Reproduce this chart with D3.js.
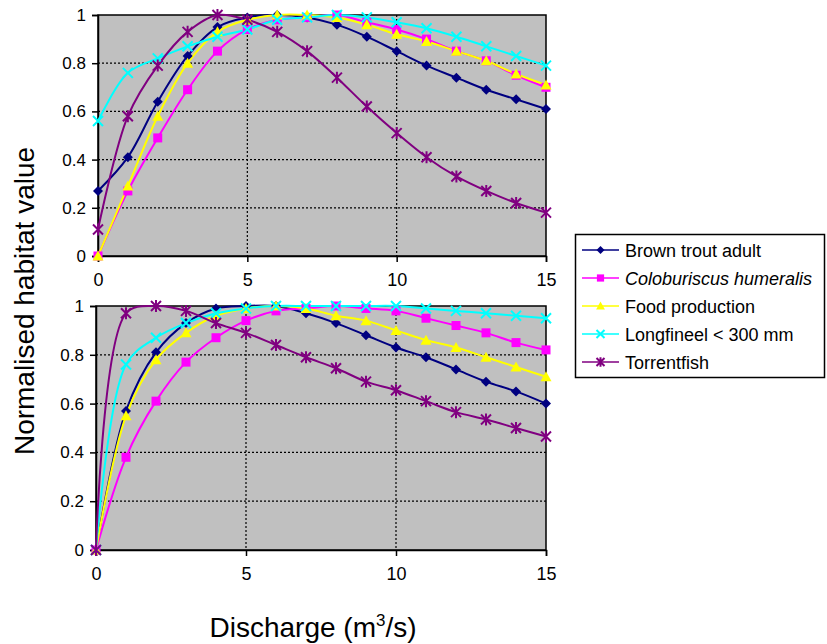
<!DOCTYPE html>
<html>
<head>
<meta charset="utf-8">
<script src="https://cdn.jsdelivr.net/npm/d3@7"></script>
<style>
  html, body { margin: 0; padding: 0; background: #fff; }
  svg { display: block; font-family: Arial, "Liberation Sans", sans-serif; }
</style>
</head>
<body>
<svg id="chart" width="827" height="644"></svg>
<script>
// Discharge steps (m3/s)
const discharge = [0,1,2,3,4,5,6,7,8,9,10,11,12,13,14,15];

const seriesNames = ["Brown trout adult", "Coloburiscus humeralis", "Food production", "Longfineel < 300 mm", "Torrentfish"];

// Upper panel
const topBrownTrout   = [0.27,0.41,0.64,0.83,0.95,0.99,1.00,0.99,0.96,0.91,0.85,0.79,0.74,0.69,0.65,0.61];
const topColoburiscus = [0.00,0.27,0.49,0.69,0.85,0.94,0.98,0.99,1.00,0.97,0.94,0.90,0.85,0.81,0.75,0.70];
const topFood         = [0.00,0.29,0.58,0.80,0.93,0.98,1.00,1.00,0.99,0.96,0.92,0.89,0.85,0.81,0.755,0.71];
const topLongfin      = [0.56,0.76,0.82,0.87,0.91,0.94,0.98,0.99,1.00,0.99,0.97,0.945,0.91,0.87,0.83,0.79];
const topTorrentfish  = [0.11,0.58,0.79,0.93,1.00,0.98,0.93,0.85,0.74,0.62,0.51,0.41,0.33,0.27,0.22,0.18];

// Lower panel
const botBrownTrout   = [0.00,0.57,0.81,0.93,0.99,1.00,1.00,0.97,0.93,0.88,0.83,0.79,0.74,0.69,0.65,0.60];
const botColoburiscus = [0.00,0.38,0.61,0.77,0.87,0.94,0.98,0.99,1.00,0.99,0.98,0.95,0.92,0.89,0.85,0.82];
const botFood         = [0.00,0.55,0.78,0.89,0.96,0.99,1.00,0.99,0.96,0.94,0.90,0.86,0.83,0.79,0.75,0.71];
const botLongfin      = [0.00,0.76,0.87,0.93,0.97,0.99,1.00,1.00,1.00,1.00,1.00,0.99,0.98,0.97,0.96,0.95];
const botTorrentfish  = [0.00,0.97,1.00,0.98,0.93,0.89,0.84,0.79,0.745,0.69,0.655,0.61,0.565,0.535,0.50,0.465];

const xTicks = [0, 5, 10, 15];
const yTicks = [0, 0.2, 0.4, 0.6, 0.8, 1];
const yTickLabels = ["0", "0.2", "0.4", "0.6", "0.8", "1"];

const colors  = ["#000080", "#FF00FF", "#FFFF00", "#00FFFF", "#800080"];
const symbols = ["diamond", "square", "triangle", "cross", "star"];

const svg = d3.select("#chart");

// Marker glyphs
function drawMarker(g, kind, color, x, y, r = 5) {
  if (kind === "diamond") {
    g.append("path").attr("d", `M${x},${y-r}L${x+r},${y}L${x},${y+r}L${x-r},${y}Z`).attr("fill", color);
  } else if (kind === "square") {
    g.append("rect").attr("x", x-r*0.9).attr("y", y-r*0.9).attr("width", r*1.8).attr("height", r*1.8).attr("fill", color);
  } else if (kind === "triangle") {
    g.append("path").attr("d", `M${x},${y-r*1.1}L${x+r*1.1},${y+r*0.9}L${x-r*1.1},${y+r*0.9}Z`).attr("fill", color);
  } else if (kind === "cross") {
    g.append("path").attr("d", `M${x-r},${y-r}L${x+r},${y+r}M${x+r},${y-r}L${x-r},${y+r}`)
      .attr("stroke", color).attr("stroke-width", 2).attr("fill", "none");
  } else if (kind === "star") {
    g.append("path").attr("d", `M${x-r},${y-r}L${x+r},${y+r}M${x+r},${y-r}L${x-r},${y+r}M${x},${y-r*1.2}L${x},${y+r*1.2}`)
      .attr("stroke", color).attr("stroke-width", 2).attr("fill", "none");
  }
}

function drawPanel(left, right, top, bottom, data) {
  const x = d3.scaleLinear().domain([0, 15]).range([left, right]);
  const y = d3.scaleLinear().domain([0, 1]).range([bottom, top]);
  const g = svg.append("g");

  // plot area
  g.append("rect").attr("x", left).attr("y", top)
    .attr("width", right - left).attr("height", bottom - top)
    .attr("fill", "#C0C0C0");

  // dotted grid
  g.selectAll(".hg").data(yTicks.filter(v => v > 0 && v < 1)).join("line")
    .attr("x1", left).attr("x2", right)
    .attr("y1", d => y(d)).attr("y2", d => y(d))
    .attr("stroke", "#000").attr("stroke-width", 1.2).attr("stroke-dasharray", "2,2");
  g.selectAll(".vg").data(xTicks.filter(v => v > 0 && v < 15)).join("line")
    .attr("x1", d => x(d)).attr("x2", d => x(d))
    .attr("y1", top).attr("y2", bottom)
    .attr("stroke", "#000").attr("stroke-width", 1.2).attr("stroke-dasharray", "2,2");

  // frame
  g.append("rect").attr("x", left).attr("y", top)
    .attr("width", right - left).attr("height", bottom - top)
    .attr("fill", "none").attr("stroke", "#000").attr("stroke-width", 1.5);

  // axes
  const xAxis = d3.axisBottom(x).tickValues(xTicks).tickSize(6).tickPadding(11).tickFormat(d3.format("d"));
  const yAxis = d3.axisLeft(y).tickValues(yTicks).tickSize(6).tickPadding(6)
    .tickFormat((d, i) => yTickLabels[i]);
  const gx = g.append("g").attr("transform", `translate(0,${bottom})`).call(xAxis);
  const gy = g.append("g").attr("transform", `translate(${left},0)`).call(yAxis);
  [gx, gy].forEach(a => {
    a.select(".domain").attr("stroke", "#000").attr("stroke-width", 1.5);
    a.selectAll(".tick line").attr("stroke", "#000").attr("stroke-width", 1.5);
    a.selectAll("text").attr("fill", "#000")
      .style("font-family", "Arial, 'Liberation Sans', sans-serif");
  });
  gx.selectAll("text").style("font-size", "18px");
  gy.selectAll("text").style("font-size", "17px");

  // series
  const line = d3.line().x((d, i) => x(discharge[i])).y(d => y(d)).curve(d3.curveCatmullRom.alpha(0.5));
  data.forEach((vals, s) => {
    g.append("path").attr("d", line(vals)).attr("fill", "none")
      .attr("stroke", colors[s]).attr("stroke-width", 2);
  });
  data.forEach((vals, s) => {
    const mg = g.append("g");
    vals.forEach((v, i) => drawMarker(mg, symbols[s], colors[s], x(discharge[i]), y(v)));
  });
}

drawPanel(98, 546, 15, 256, [topBrownTrout, topColoburiscus, topFood, topLongfin, topTorrentfish]);
drawPanel(96, 546, 306, 550, [botBrownTrout, botColoburiscus, botFood, botLongfin, botTorrentfish]);

// axis titles
svg.append("text").attr("transform", "translate(34,301) rotate(-90)")
  .attr("text-anchor", "middle").style("font-size", "28px").attr("fill", "#000")
  .text("Normalised habitat value");

const xt = svg.append("text").attr("x", 313).attr("y", 637)
  .attr("text-anchor", "middle").style("font-size", "28px").attr("fill", "#000");
xt.append("tspan").text("Discharge (m");
xt.append("tspan").attr("dy", -11).style("font-size", "17px").text("3");
xt.append("tspan").attr("dy", 11).text("/s)");

// legend
const lg = svg.append("g");
lg.append("rect").attr("x", 575.5).attr("y", 234.5).attr("width", 249).attr("height", 143)
  .attr("fill", "#fff").attr("stroke", "#000").attr("stroke-width", 1.5);
const legendY = d3.scalePoint().domain(seriesNames).range([250, 362]);
seriesNames.forEach((name, s) => {
  const yy = legendY(name);
  lg.append("line").attr("x1", 582).attr("x2", 619).attr("y1", yy).attr("y2", yy)
    .attr("stroke", colors[s]).attr("stroke-width", 1.5);
  drawMarker(lg, symbols[s], colors[s], 600.5, yy, 4);
  lg.append("text").attr("x", 625).attr("y", yy + 6.5)
    .style("font-size", "18px").attr("fill", "#000")
    .style("font-style", s === 1 ? "italic" : "normal")
    .text(name);
});
</script>
</body>
</html>
